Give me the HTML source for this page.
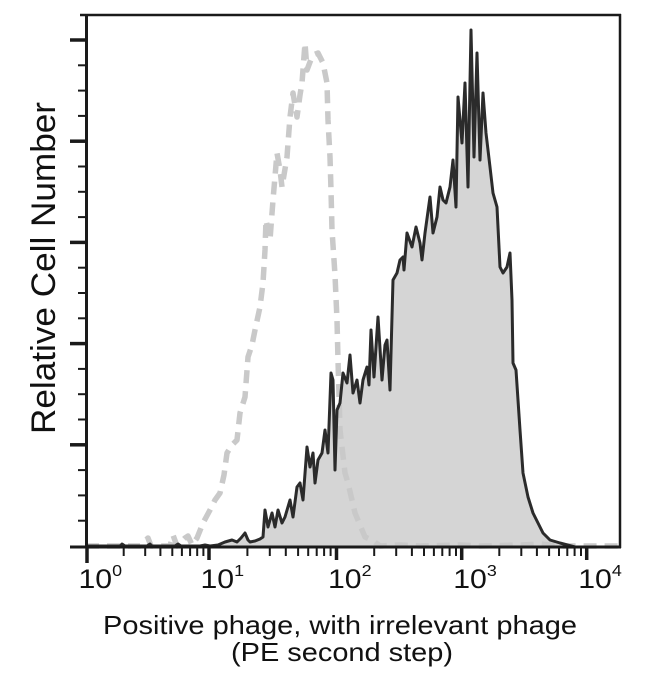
<!DOCTYPE html>
<html>
<head>
<meta charset="utf-8">
<style>
html,body{margin:0;padding:0;background:#fff;}
svg{display:block;}
text{font-family:"Liberation Sans",Arial,Helvetica,sans-serif;fill:#111;}
</style>
</head>
<body>
<svg width="650" height="680" viewBox="0 0 650 680" xmlns="http://www.w3.org/2000/svg">
<rect x="0" y="0" width="650" height="680" fill="#fff"/>

<!-- filled histogram -->
<path fill="#d5d5d5" stroke="none" d="M86,546 L120,546 L122,544 L125,546 L147,546 L150,544 L152,546 L175,546 L178,544 L181,546 L200,546 L205,545 L210,546 L218,545 L225,542 L232,540 L237,542 L241,538 L245,533 L248,540 L250,542 L255,541 L260,539 L263,537 L265,510 L268,527 L272,513 L275,527 L278,510 L282,523 L285,517 L290,500 L293,517 L297,487 L300,483 L303,500 L307,447 L310,467 L313,453 L315,483 L318,460 L322,453 L325,430 L328,453 L331,373 L333,380 L335,470 L337,410 L340,403 L343,373 L347,383 L350,355 L353,393 L357,380 L360,403 L363,380 L367,367 L369,385 L371,330 L374,377 L378,317 L382,380 L385,345 L387,340 L390,390 L393,280 L397,273 L400,260 L403,257 L404,270 L407,233 L412,247 L416,227 L420,243 L422,260 L425,233 L430,197 L433,233 L437,217 L440,187 L443,200 L446,203 L450,187 L453,160 L456,207 L458,97 L462,143 L465,83 L468,187 L471,30 L474,157 L477,53 L480,160 L483,93 L486,133 L490,167 L493,193 L497,207 L500,267 L503,273 L507,267 L510,253 L512,300 L513,363 L516,370 L520,430 L523,473 L528,497 L533,513 L538,523 L543,533 L550,540 L560,543 L575,547 L620,547 L86,547 Z"/>

<!-- dashed control histogram -->
<path fill="none" stroke="#c9c9c9" stroke-width="5.5" stroke-dasharray="13 8" stroke-linejoin="round" d="M86,546 L140,546 L145,541 L148,538 L151,546 L170,546 L173,535 L177,546 L185,538 L188,536 L192,545 L197,538 L203,523 L210,510 L215,500 L220,493 L224,475 L227,453 L232,445 L237,440 L240,413 L245,397 L248,357 L252,345 L255,330 L260,307 L263,283 L265,250 L266,220 L270,240 L273,200 L277,153 L280,170 L282,187 L287,157 L290,117 L293,93 L297,117 L300,95 L302,83 L305,43 L307,70 L310,62 L313,55 L318,53 L323,63 L327,83 L328,120 L330,157 L331,190 L332,230 L335,275 L337,320 L338,360 L340,430 L342,447 L345,473 L348,483 L355,513 L360,525 L365,537 L372,540 L380,546 L400,545 L420,546 L460,545 L480,546 L520,545 L540,544 L560,546 L620,546"/>

<!-- dark outline -->
<path fill="none" stroke="#2b2b2b" stroke-width="3" stroke-linejoin="round" d="M86,546 L120,546 L122,544 L125,546 L147,546 L150,544 L152,546 L175,546 L178,544 L181,546 L200,546 L205,545 L210,546 L218,545 L225,542 L232,540 L237,542 L241,538 L245,533 L248,540 L250,542 L255,541 L260,539 L263,537 L265,510 L268,527 L272,513 L275,527 L278,510 L282,523 L285,517 L290,500 L293,517 L297,487 L300,483 L303,500 L307,447 L310,467 L313,453 L315,483 L318,460 L322,453 L325,430 L328,453 L331,373 L333,380 L335,470 L337,410 L340,403 L343,373 L347,383 L350,355 L353,393 L357,380 L360,403 L363,380 L367,367 L369,385 L371,330 L374,377 L378,317 L382,380 L385,345 L387,340 L390,390 L393,280 L397,273 L400,260 L403,257 L404,270 L407,233 L412,247 L416,227 L420,243 L422,260 L425,233 L430,197 L433,233 L437,217 L440,187 L443,200 L446,203 L450,187 L453,160 L456,207 L458,97 L462,143 L465,83 L468,187 L471,30 L474,157 L477,53 L480,160 L483,93 L486,133 L490,167 L493,193 L497,207 L500,267 L503,273 L507,267 L510,253 L512,300 L513,363 L516,370 L520,430 L523,473 L528,497 L533,513 L538,523 L543,533 L550,540 L560,543 L575,547 L620,547"/>

<!-- frame -->
<g stroke="#1a1a1a" fill="none">
  <line x1="80" y1="15" x2="621" y2="15" stroke-width="2.5"/>
  <line x1="620" y1="14" x2="620" y2="548" stroke-width="2.5"/>
  <line x1="86.5" y1="14" x2="86.5" y2="548" stroke-width="3"/>
  <line x1="70" y1="547" x2="621" y2="547" stroke-width="3"/>
</g>

<!-- y ticks -->
<g stroke="#1a1a1a">
  <line x1="70" y1="40" x2="86" y2="40" stroke-width="3.5"/>
  <line x1="70" y1="141.2" x2="86" y2="141.2" stroke-width="3.5"/>
  <line x1="70" y1="242.4" x2="86" y2="242.4" stroke-width="3.5"/>
  <line x1="70" y1="343.6" x2="86" y2="343.6" stroke-width="3.5"/>
  <line x1="70" y1="444.8" x2="86" y2="444.8" stroke-width="3.5"/>
  <line x1="78" y1="65.3" x2="86" y2="65.3" stroke-width="2"/>
  <line x1="78" y1="90.6" x2="86" y2="90.6" stroke-width="2"/>
  <line x1="78" y1="115.9" x2="86" y2="115.9" stroke-width="2"/>
  <line x1="78" y1="166.5" x2="86" y2="166.5" stroke-width="2"/>
  <line x1="78" y1="191.8" x2="86" y2="191.8" stroke-width="2"/>
  <line x1="78" y1="217.1" x2="86" y2="217.1" stroke-width="2"/>
  <line x1="78" y1="267.7" x2="86" y2="267.7" stroke-width="2"/>
  <line x1="78" y1="293" x2="86" y2="293" stroke-width="2"/>
  <line x1="78" y1="318.3" x2="86" y2="318.3" stroke-width="2"/>
  <line x1="78" y1="368.9" x2="86" y2="368.9" stroke-width="2"/>
  <line x1="78" y1="394.2" x2="86" y2="394.2" stroke-width="2"/>
  <line x1="78" y1="419.5" x2="86" y2="419.5" stroke-width="2"/>
  <line x1="78" y1="470.1" x2="86" y2="470.1" stroke-width="2"/>
  <line x1="78" y1="495.4" x2="86" y2="495.4" stroke-width="2"/>
  <line x1="78" y1="520.7" x2="86" y2="520.7" stroke-width="2"/>
</g>

<!-- x ticks -->
<g stroke="#1a1a1a">
  <line x1="87" y1="547" x2="87" y2="563" stroke-width="3.5"/>
  <line x1="209" y1="547" x2="209" y2="560" stroke-width="3.5"/>
  <line x1="336.5" y1="547" x2="336.5" y2="560" stroke-width="3.5"/>
  <line x1="461.7" y1="547" x2="461.7" y2="560" stroke-width="3.5"/>
  <line x1="586.7" y1="547" x2="586.7" y2="560" stroke-width="3.5"/>
  <g stroke-width="2">
    <line x1="123.7" y1="547" x2="123.7" y2="556"/>
    <line x1="145.2" y1="547" x2="145.2" y2="556"/>
    <line x1="160.4" y1="547" x2="160.4" y2="556"/>
    <line x1="172.3" y1="547" x2="172.3" y2="556"/>
    <line x1="181.9" y1="547" x2="181.9" y2="556"/>
    <line x1="190.1" y1="547" x2="190.1" y2="556"/>
    <line x1="197.2" y1="547" x2="197.2" y2="556"/>
    <line x1="203.4" y1="547" x2="203.4" y2="556"/>
    <line x1="247.4" y1="547" x2="247.4" y2="556"/>
    <line x1="269.8" y1="547" x2="269.8" y2="556"/>
    <line x1="285.8" y1="547" x2="285.8" y2="556"/>
    <line x1="298.1" y1="547" x2="298.1" y2="556"/>
    <line x1="308.2" y1="547" x2="308.2" y2="556"/>
    <line x1="316.7" y1="547" x2="316.7" y2="556"/>
    <line x1="324.1" y1="547" x2="324.1" y2="556"/>
    <line x1="330.6" y1="547" x2="330.6" y2="556"/>
    <line x1="374.2" y1="547" x2="374.2" y2="556"/>
    <line x1="396.2" y1="547" x2="396.2" y2="556"/>
    <line x1="411.9" y1="547" x2="411.9" y2="556"/>
    <line x1="424.0" y1="547" x2="424.0" y2="556"/>
    <line x1="433.9" y1="547" x2="433.9" y2="556"/>
    <line x1="442.3" y1="547" x2="442.3" y2="556"/>
    <line x1="449.6" y1="547" x2="449.6" y2="556"/>
    <line x1="456.0" y1="547" x2="456.0" y2="556"/>
    <line x1="499.3" y1="547" x2="499.3" y2="556"/>
    <line x1="521.3" y1="547" x2="521.3" y2="556"/>
    <line x1="536.9" y1="547" x2="536.9" y2="556"/>
    <line x1="549.1" y1="547" x2="549.1" y2="556"/>
    <line x1="559.0" y1="547" x2="559.0" y2="556"/>
    <line x1="567.3" y1="547" x2="567.3" y2="556"/>
    <line x1="574.6" y1="547" x2="574.6" y2="556"/>
    <line x1="581.0" y1="547" x2="581.0" y2="556"/>
  </g>
</g>

<!-- x tick labels -->
<g font-size="27">
  <text transform="translate(78.5,588) scale(1.12,1)">10<tspan font-size="16" dy="-12">0</tspan></text>
  <text transform="translate(200.5,588) scale(1.12,1)">10<tspan font-size="16" dy="-12">1</tspan></text>
  <text transform="translate(328,588) scale(1.12,1)">10<tspan font-size="16" dy="-12">2</tspan></text>
  <text transform="translate(453.2,588) scale(1.12,1)">10<tspan font-size="16" dy="-12">3</tspan></text>
  <text transform="translate(578.2,588) scale(1.12,1)">10<tspan font-size="16" dy="-12">4</tspan></text>
</g>

<!-- axis titles -->
<text x="340" y="634" font-size="26" text-anchor="middle" textLength="474" lengthAdjust="spacingAndGlyphs">Positive phage, with irrelevant phage</text>
<text x="342" y="661" font-size="26" text-anchor="middle" textLength="222" lengthAdjust="spacingAndGlyphs">(PE second step)</text>
<text transform="translate(55,268) rotate(-90)" font-size="34" text-anchor="middle" textLength="332" lengthAdjust="spacingAndGlyphs">Relative Cell Number</text>
</svg>
</body>
</html>
